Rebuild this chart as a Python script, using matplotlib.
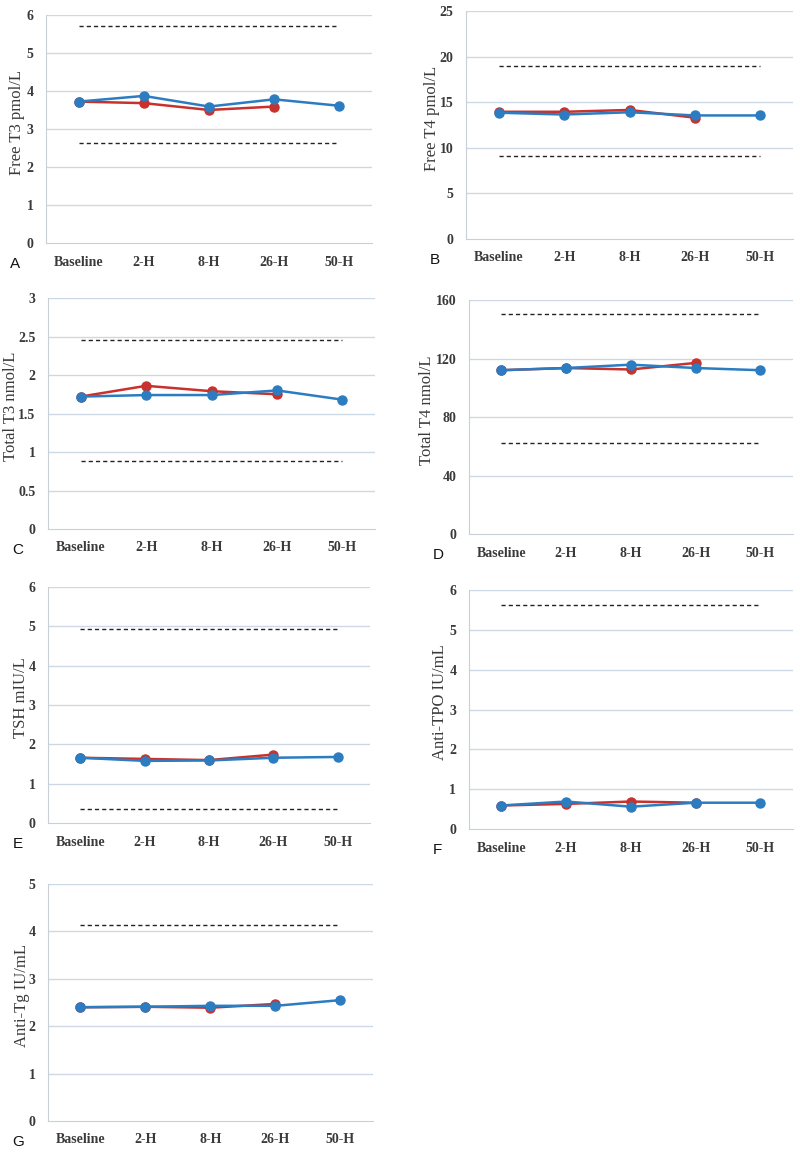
import numpy as np
import matplotlib.pyplot as plt

# Time points
times = ["Baseline", "2-H", "8-H", "26-H", "50-H"]

# Panel A - Free T3
ft3_red = [3.72, 3.68, 3.50, 3.59]
ft3_blue = [3.72, 3.87, 3.59, 3.78, 3.61]
ft3_ref = [5.72, 2.63]

# Panel B - Free T4
ft4_red = [13.95, 13.95, 14.15, 13.3]
ft4_blue = [13.85, 13.65, 13.9, 13.55, 13.55]
ft4_ref = [19.0, 9.05]

# Panel C - Total T3
tt3_red = [1.72, 1.86, 1.79, 1.75]
tt3_blue = [1.72, 1.74, 1.74, 1.80, 1.68]
tt3_ref = [2.45, 0.88]

# Panel D - Total T4
tt4_red = [112.0, 113.5, 112.5, 117.0]
tt4_blue = [112.0, 113.5, 115.8, 113.5, 112.0]
tt4_ref = [150.5, 62.5]

# Panel E - TSH
tsh_red = [1.66, 1.63, 1.60, 1.74]
tsh_blue = [1.66, 1.58, 1.59, 1.66, 1.68]
tsh_ref = [4.94, 0.36]

# Panel F - Anti-TPO
tpo_red = [0.59, 0.63, 0.69, 0.66]
tpo_blue = [0.59, 0.69, 0.56, 0.66, 0.66]
tpo_ref = [5.62]

# Panel G - Anti-Tg
tg_red = [2.40, 2.41, 2.39, 2.47]
tg_blue = [2.40, 2.41, 2.43, 2.43, 2.55]
tg_ref = [4.13]

RED = "#c8312c"
BLUE = "#2c7cc1"
GRID = "#ccd8e3"
TEXT = "#3a3a3a"

# letter, y label, red, blue, reference lines, ymax, step, axes rect, ylabel x (axes frac)
panels = [
    ("A", "Free T3 pmol/L", ft3_red, ft3_blue, ft3_ref, 6, 1, [0.0575, 0.7885, 0.4075, 0.1985], -0.089),
    ("B", "Free T4 pmol/L", ft4_red, ft4_blue, ft4_ref, 25, 5, [0.5825, 0.792, 0.409, 0.1984], -0.104),
    ("C", "Total T3 nmol/L", tt3_red, tt3_blue, tt3_ref, 3, 0.5, [0.060, 0.5396, 0.409, 0.201], -0.114),
    ("D", "Total T4 nmol/L", tt4_red, tt4_blue, tt4_ref, 160, 40, [0.586, 0.5352, 0.405, 0.2037], -0.128),
    ("E", "TSH mIU/L", tsh_red, tsh_blue, tsh_ref, 6, 1, [0.060, 0.2837, 0.4025, 0.2054], -0.084),
    ("F", "Anti-TPO IU/mL", tpo_red, tpo_blue, tpo_ref, 6, 1, [0.586, 0.2785, 0.405, 0.208], -0.09),
    ("G", "Anti-Tg IU/mL", tg_red, tg_blue, tg_ref, 5, 1, [0.060, 0.0244, 0.406, 0.2062], -0.08),
]

fig = plt.figure(figsize=(8, 11.49), dpi=100)
x = np.arange(len(times))
xpad = 9

for letter, ylabel, red, blue, ref, ymax, step, pos, labx in panels:
    ax = fig.add_axes(pos)
    ax.set_xlim(-0.5, 4.5)
    ax.set_ylim(0, ymax)
    ticks = np.arange(0, ymax + step / 2, step)
    ax.set_yticks(ticks)
    ax.set_yticklabels([("%g" % t) for t in ticks])
    for t in ticks[1:]:
        ax.axhline(t, color=GRID, lw=1.0, zorder=0)
    for r in ref:
        ax.plot([0, 4], [r, r], color="#222222", lw=1.0, ls=(0, (3, 2.2)), zorder=1)
    ax.plot(x[:len(red)], red, color=RED, lw=1.8, marker="o", ms=6.5, zorder=3)
    ax.plot(x, blue, color=BLUE, lw=1.8, marker="o", ms=6.5, zorder=4)

    ax.set_xticks(x)
    ax.set_xticklabels(times)
    for s in ["top", "right"]:
        ax.spines[s].set_visible(False)
    ax.spines["left"].set_color("#c8cfd6")
    ax.spines["bottom"].set_color("#c8cfd6")
    ax.tick_params(axis="both", length=0, labelcolor=TEXT)
    ax.tick_params(axis="x", pad=xpad, labelsize=10)
    ax.tick_params(axis="y", pad=9, labelsize=10)
    for lab in ax.get_xticklabels() + ax.get_yticklabels():
        lab.set_family("Liberation Serif")
        lab.set_fontweight("bold")
    ax.set_ylabel(ylabel, family="Liberation Serif", fontsize=12, color=TEXT, va="center")
    ax.yaxis.set_label_coords(labx, 0.53)
    ax.annotate(letter, xy=(-0.11, 0), xycoords="axes fraction",
                xytext=(0, -(xpad + 6)), textcoords="offset points",
                family="Liberation Sans", fontsize=11, color="#111111",
                ha="left", va="center")

fig.savefig("out.png", dpi=100)
